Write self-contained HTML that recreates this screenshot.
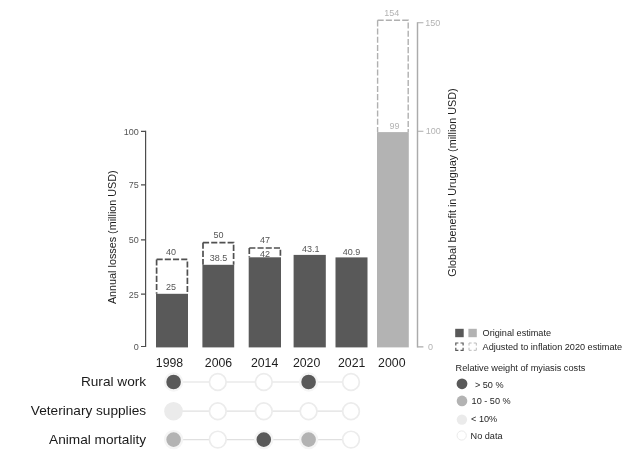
<!DOCTYPE html>
<html>
<head>
<meta charset="utf-8">
<title>Chart</title>
<style>
html,body{margin:0;padding:0;background:#fff;}
svg{display:block;}
text{font-family:"Liberation Sans",Arial,sans-serif;}
.tk{font-size:9px;fill:#555;}
.tkr{font-size:9px;fill:#b3b3b3;}
.yr{font-size:12.3px;fill:#1e1e1e;}
.row{font-size:13.65px;fill:#1a1a1a;}
.ttl{font-size:10.8px;fill:#1e1e1e;}
.lg{font-size:9.15px;fill:#1e1e1e;}
</style>
</head>
<body>
<svg width="643" height="454" viewBox="0 0 643 454">
<rect width="643" height="454" fill="#fff"/>

<!-- connecting lines -->
<g stroke="#e0e0e0" stroke-width="1.2">
<line x1="173.6" y1="382" x2="351" y2="382"/>
<line x1="173.6" y1="411.2" x2="351" y2="411.2"/>
<line x1="173.6" y1="439.6" x2="351" y2="439.6"/>
</g>

<!-- dots -->
<g fill="#fff" stroke="#ececec" stroke-width="1.7">
<circle cx="217.8" cy="382" r="8.35"/>
<circle cx="263.8" cy="382" r="8.35"/>
<circle cx="351" cy="382" r="8.35"/>
<circle cx="217.8" cy="411.2" r="8.35"/>
<circle cx="263.8" cy="411.2" r="8.35"/>
<circle cx="308.6" cy="411.2" r="8.35"/>
<circle cx="351" cy="411.2" r="8.35"/>
<circle cx="217.8" cy="439.6" r="8.35"/>
<circle cx="351" cy="439.6" r="8.35"/>
</g>
<g stroke="#f5f5f5" stroke-width="2.4">
<circle cx="173.6" cy="382" r="8.5" fill="#595959"/>
<circle cx="308.6" cy="382" r="8.5" fill="#595959"/>
<circle cx="173.6" cy="439.6" r="8.5" fill="#b3b3b3"/>
<circle cx="263.8" cy="439.6" r="8.5" fill="#595959"/>
<circle cx="308.6" cy="439.6" r="8.5" fill="#b3b3b3"/>
</g>
<circle cx="173.5" cy="411.2" r="9.3" fill="#ebebeb"/>

<!-- row labels -->
<text class="row" x="146.1" y="386.3" text-anchor="end">Rural work</text>
<text class="row" x="146.1" y="414.7" text-anchor="end">Veterinary supplies</text>
<text class="row" x="146.1" y="443.7" text-anchor="end">Animal mortality</text>

<!-- dashed adjusted bars -->
<g fill="none" stroke="#505050" stroke-width="1.7" stroke-dasharray="6.1 2.1">
<path d="M156.6 259.4 H187.4 V293.8 M156.6 259.4 V293.8"/>
<path d="M203 242.6 H233.6 V264.8 M203 242.6 V264.8"/>
<path d="M249.3 248 H280.4 V257.3 M249.3 248 V257.3"/>
</g>
<path d="M377.6 20.3 H408.2 V132.1 M377.6 20.3 V132.1" fill="none" stroke="#b0b0b0" stroke-width="1.4" stroke-dasharray="6.1 2.1"/>

<!-- bars -->
<g fill="#595959">
<rect x="156" y="293.8" width="32" height="53.6"/>
<rect x="202.4" y="264.8" width="31.8" height="82.6"/>
<rect x="248.7" y="257.3" width="32.3" height="90.1"/>
<rect x="293.6" y="254.9" width="32.2" height="92.5"/>
<rect x="335.5" y="257.4" width="32" height="90"/>
</g>
<rect x="377" y="132.1" width="31.8" height="215.3" fill="#b3b3b3"/>

<!-- left axis -->
<g stroke="#4d4d4d" stroke-width="1.2" fill="none">
<path d="M145.6 130.8 V347.1"/>
<path d="M141 131.4 H145.6 M141 184.9 H145.6 M141 239.8 H145.6 M141 294.1 H145.6 M141 346.5 H145.6"/>
</g>
<g class="tk" text-anchor="end">
<text x="138.8" y="134.7">100</text>
<text x="138.8" y="188.2">75</text>
<text x="138.8" y="243.1">50</text>
<text x="138.8" y="297.6">25</text>
<text x="138.8" y="349.7">0</text>
</g>
<text class="ttl" transform="translate(116.3,237.2) rotate(-90)" text-anchor="middle">Annual losses (million USD)</text>

<!-- right axis -->
<g stroke="#ababab" stroke-width="1.45" fill="none">
<path d="M417.5 22.2 V347.5"/>
<path d="M417.5 22.8 H423.4 M417.5 131.2 H423.4 M417.5 346.9 H423.4" stroke-width="1.1"/>
</g>
<g class="tkr">
<text x="425.2" y="25.7">150</text>
<text x="425.7" y="134.3">100</text>
<text x="427.9" y="349.9">0</text>
</g>
<text class="ttl" transform="translate(456,182.5) rotate(-90)" text-anchor="middle">Global benefit in Uruguay (million USD)</text>

<!-- bar value labels -->
<g class="tk" text-anchor="middle">
<text x="171" y="255">40</text>
<text x="171" y="290.3">25</text>
<text x="218.5" y="238.4">50</text>
<text x="218.5" y="261.4">38.5</text>
<text x="265" y="242.7">47</text>
<text x="265" y="256.6">42</text>
<text x="310.7" y="252">43.1</text>
<text x="351.4" y="254.9">40.9</text>
</g>
<g class="tkr" text-anchor="middle">
<text x="391.7" y="15.7">154</text>
<text x="394.5" y="129.4">99</text>
</g>

<!-- year labels -->
<g class="yr" text-anchor="middle">
<text x="169.5" y="366.5">1998</text>
<text x="218.5" y="366.5">2006</text>
<text x="264.6" y="366.5">2014</text>
<text x="306.6" y="366.5">2020</text>
<text x="351.7" y="366.5">2021</text>
<text x="391.8" y="366.5">2000</text>
</g>

<!-- legend 1 -->
<rect x="455.2" y="328.8" width="8.5" height="8.4" fill="#595959"/>
<rect x="468.4" y="328.8" width="8.4" height="8.4" fill="#b3b3b3"/>
<rect x="455.8" y="343" width="7.3" height="7.3" fill="none" stroke="#595959" stroke-width="1.2" stroke-dasharray="5.2 2.1" stroke-dashoffset="2.6"/>
<rect x="469" y="343" width="7.3" height="7.3" fill="none" stroke="#bcbcbc" stroke-width="1" stroke-dasharray="5.2 2.1" stroke-dashoffset="2.6"/>
<text class="lg" x="482.6" y="336">Original estimate</text>
<text class="lg" x="482.6" y="349.7">Adjusted to inflation 2020 estimate</text>

<!-- legend 2 -->
<text class="lg" style="font-size:9.2px" x="455.6" y="371.2">Relative weight of myiasis costs</text>
<circle cx="462" cy="383.8" r="5.4" fill="#595959"/>
<circle cx="462" cy="400.9" r="5.3" fill="#b3b3b3"/>
<circle cx="461.9" cy="419.6" r="5.2" fill="#ebebeb"/>
<circle cx="461.7" cy="435.5" r="4.6" fill="#fff" stroke="#ebebeb" stroke-width="1"/>
<text class="lg" x="474.9" y="387.5">&gt; 50 %</text>
<text class="lg" x="471.6" y="403.8">10 - 50 %</text>
<text class="lg" x="471.1" y="422.3">&lt; 10%</text>
<text class="lg" x="470.6" y="438.6">No data</text>
</svg>
</body>
</html>
